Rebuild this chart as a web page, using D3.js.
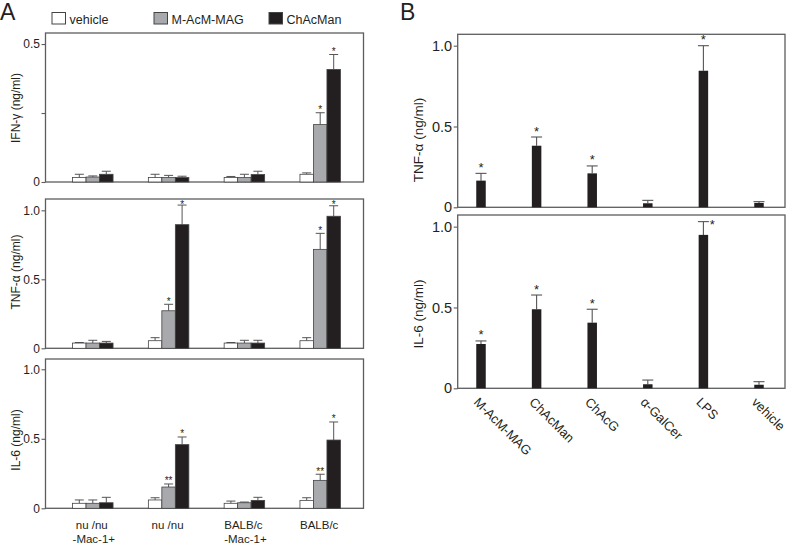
<!DOCTYPE html>
<html><head><meta charset="utf-8">
<script src="https://cdn.jsdelivr.net/npm/d3@7"></script>
<style>body{margin:0;background:#fff}svg{display:block;font-family:"Liberation Sans",Arial,Helvetica,sans-serif}</style>
</head><body><svg id="c" width="787" height="546"></svg>
<script>
// ---------- DATA ----------
// Panel A
const seriesA = ["vehicle", "M-AcM-MAG", "ChAcMan"];
const groupsA = ["nu/nu -Mac-1+", "nu/nu", "BALB/c -Mac-1+", "BALB/c"];
const groupLabelsA = [["nu /nu", "-Mac-1+"], ["nu /nu"], ["BALB/c", "-Mac-1+"], ["BALB/c"]];

// values per group: [vehicle, M-AcM-MAG, ChAcMan]
const ifnMean = [[0.016, 0.018, 0.028], [0.016, 0.016, 0.016], [0.016, 0.016, 0.027], [0.028, 0.208, 0.408]];
const ifnErr  = [[0.012, 0.004, 0.011], [0.012, 0.008, 0.005], [0.004, 0.012, 0.012], [0.005, 0.043, 0.054]];
const ifnSig  = [["", "", ""], ["", "", ""], ["", "", ""], ["", "*", "*"]];

const tnfMeanA = [[0.038, 0.038, 0.038], [0.055, 0.272, 0.896], [0.038, 0.038, 0.038], [0.055, 0.717, 0.957]];
const tnfErrA  = [[0.004, 0.020, 0.012], [0.022, 0.047, 0.142], [0.004, 0.020, 0.020], [0.022, 0.116, 0.076]];
const tnfSigA  = [["", "", ""], ["", "*", "*"], ["", "", ""], ["", "*", "*"]];

const il6MeanA = [[0.036, 0.036, 0.040], [0.060, 0.153, 0.458], [0.036, 0.040, 0.057], [0.057, 0.201, 0.491]];
const il6ErrA  = [[0.024, 0.024, 0.039], [0.016, 0.022, 0.055], [0.016, 0.005, 0.022], [0.019, 0.044, 0.130]];
const il6SigA  = [["", "", ""], ["", "**", "*"], ["", "", ""], ["", "**", "*"]];

// Panel B
const catsB = ["M-AcM-MAG", "ChAcMan", "ChAcG", "α-GalCer", "LPS", "vehicle"];
const tnfMeanB = [0.165, 0.381, 0.210, 0.025, 0.845, 0.027];
const tnfErrB  = [0.045, 0.054, 0.046, 0.018, 0.155, 0.008];
const tnfSigB  = ["*", "*", "*", "", "*", ""];
const il6MeanB = [0.274, 0.489, 0.406, 0.025, 0.949, 0.022];
const il6ErrB  = [0.019, 0.088, 0.083, 0.026, 0.082, 0.019];
const il6SigB  = ["*", "*", "*", "", "*", ""];

// tick labels
const ticksIFN = [0, 0.25, 0.5], tickLabelsIFN = ["0", "", "0.5"];
const ticks1 = [0, 0.5, 1.0], tickLabels1 = ["0", "0.5", "1.0"];

// ---------- DRAW ----------
const svg = d3.select("#c");
const INK = "#231f20", FRAME = "#5c5d5f", GRAY = "#a7a9ac";
const fills = {"vehicle": "#ffffff", "M-AcM-MAG": GRAY, "ChAcMan": INK};

function frame(o) {
  const y = d3.scaleLinear().domain([0, o.vmax]).range([o.bottom, o.top]);
  const ax = d3.axisLeft(y).tickValues(o.ticks).tickFormat((d, i) => o.labels[i])
    .tickSize(4).tickPadding(1.5);
  const ga = svg.append("g").attr("transform", `translate(${o.x0},0)`).call(ax);
  ga.select(".domain").remove();
  ga.selectAll(".tick line").attr("stroke", FRAME).attr("stroke-width", 1.1);
  ga.selectAll(".tick text").attr("fill", INK).attr("font-size", o.tickFont)
    .attr("font-family", '"Liberation Sans",Arial,sans-serif');
  svg.append("rect").attr("x", o.x0).attr("y", o.top).attr("width", o.x1 - o.x0)
    .attr("height", o.bottom - o.top).attr("fill", "none")
    .attr("stroke", FRAME).attr("stroke-width", 1.3);
  svg.append("text").attr("transform", `translate(${o.titleX},${o.titleY}) rotate(-90)`)
    .attr("text-anchor", "middle").attr("font-size", o.titleFont).attr("fill", INK)
    .text(o.title);
  return y;
}

// ---- Panel A ----
const AX0 = 45.5, AX1 = 363.5;
const xA = d3.scaleBand().domain(groupsA).range([54.9, 358.1]).padding(0);
const barWA = 13.5;
const xInA = d3.scaleBand().domain(seriesA)
  .range([(xA.bandwidth() - 3 * barWA) / 2, (xA.bandwidth() + 3 * barWA) / 2]);

const panelsA = [
  {top: 33, bottom: 182, vmax: 0.54, ticks: ticksIFN, labels: tickLabelsIFN, title: "IFN-γ  (ng/ml)", titleY: 108,
   mean: ifnMean, err: ifnErr, sig: ifnSig},
  {top: 199, bottom: 348.3, vmax: 1.082, ticks: ticks1, labels: tickLabels1, title: "TNF-α (ng/ml)", titleY: 272,
   mean: tnfMeanA, err: tnfErrA, sig: tnfSigA},
  {top: 359, bottom: 508.3, vmax: 1.074, ticks: ticks1, labels: tickLabels1, title: "IL-6 (ng/ml)", titleY: 440,
   mean: il6MeanA, err: il6ErrA, sig: il6SigA}
];

panelsA.forEach(p => {
  const y = frame(Object.assign({x0: AX0, x1: AX1, tickFont: 12, titleX: 20, titleFont: 12}, p));
  const g = svg.append("g");
  groupsA.forEach((grp, gi) => {
    seriesA.forEach((s, si) => {
      const m = p.mean[gi][si], e = p.err[gi][si], sg = p.sig[gi][si];
      const bx = xA(grp) + xInA(s), cx = bx + barWA / 2;
      g.append("line").attr("x1", cx).attr("x2", cx).attr("y1", y(m)).attr("y2", y(m + e))
        .attr("stroke", "#555").attr("stroke-width", 1);
      g.append("line").attr("x1", cx - 4.5).attr("x2", cx + 4.5).attr("y1", y(m + e)).attr("y2", y(m + e))
        .attr("stroke", "#555").attr("stroke-width", 1);
      g.append("rect").attr("x", bx).attr("width", barWA).attr("y", y(m)).attr("height", y(0) - y(m))
        .attr("fill", fills[s]).attr("stroke", "#444").attr("stroke-width", 0.8);
      if (sg) {
        g.append("text").attr("x", cx).attr("y", Math.max(y(m + e) + 0.5, p.top + 9))
          .attr("text-anchor", "middle").attr("font-size", 10).attr("fill", INK).text(sg);
      }
    });
  });
});

// group labels A
groupsA.forEach((grp, gi) => {
  const cx = xA(grp) + xA.bandwidth() / 2;
  groupLabelsA[gi].forEach((ln, li) => {
    svg.append("text").attr("x", cx + (li ? 1 : -1)).attr("y", 529 + li * 14)
      .attr("text-anchor", "middle").attr("font-size", 11.5).attr("fill", INK).text(ln);
  });
});

// legend A
const legendX = [52, 154, 269];
seriesA.forEach((s, i) => {
  svg.append("rect").attr("x", legendX[i]).attr("y", 12.5).attr("width", 13.5).attr("height", 11.5)
    .attr("fill", fills[s]).attr("stroke", "#444").attr("stroke-width", 1);
  svg.append("text").attr("x", legendX[i] + 17.5).attr("y", 23.5).attr("font-size", 12.5)
    .attr("fill", INK).text(s);
});

svg.append("text").attr("x", 0).attr("y", 20).attr("font-size", 23).attr("fill", INK).text("A");
svg.append("text").attr("x", 400).attr("y", 20).attr("font-size", 23).attr("fill", INK).text("B");

// ---- Panel B ----
const BX0 = 457.7, BX1 = 785;
const xB = d3.scalePoint().domain(catsB).range([481, 759]);
const barWB = 9.5;
const panelsB = [
  {top: 34.3, bottom: 207.3, vmax: 1.0705, title: "TNF-α (ng/ml)", titleY: 140, mean: tnfMeanB, err: tnfErrB, sig: tnfSigB},
  {top: 215, bottom: 388.3, vmax: 1.072, title: "IL-6 (ng/ml)", titleY: 314, mean: il6MeanB, err: il6ErrB, sig: il6SigB}
];
panelsB.forEach(p => {
  const y = frame(Object.assign({x0: BX0, x1: BX1, ticks: ticks1, labels: tickLabels1, tickFont: 14.5,
    titleX: 423, titleFont: 13.5}, p));
  const g = svg.append("g");
  catsB.forEach((c, i) => {
    const m = p.mean[i], e = p.err[i], cx = xB(c);
    g.append("line").attr("x1", cx).attr("x2", cx).attr("y1", y(m)).attr("y2", y(m + e))
      .attr("stroke", "#555").attr("stroke-width", 1.1);
    g.append("line").attr("x1", cx - 5.5).attr("x2", cx + 5.5).attr("y1", y(m + e)).attr("y2", y(m + e))
      .attr("stroke", "#555").attr("stroke-width", 1.1);
    g.append("rect").attr("x", cx - barWB / 2).attr("width", barWB).attr("y", y(m)).attr("height", y(0) - y(m))
      .attr("fill", INK);
    if (p.sig[i]) {
      let sx = cx, sy = y(m + e) - 1.5;
      if (sy - 7.5 < p.top + 1) { sx = cx + 9; sy = y(m + e) + 7.5; }
      g.append("text").attr("x", sx).attr("y", sy).attr("text-anchor", "middle")
        .attr("font-size", 13).attr("fill", INK).text(p.sig[i]);
    }
  });
});
// rotated category labels B
catsB.forEach(c => {
  svg.append("text").attr("transform", `translate(${xB(c) - 8},403) rotate(45)`)
    .attr("font-size", 13).attr("fill", INK).text(c);
});
</script></body></html>
